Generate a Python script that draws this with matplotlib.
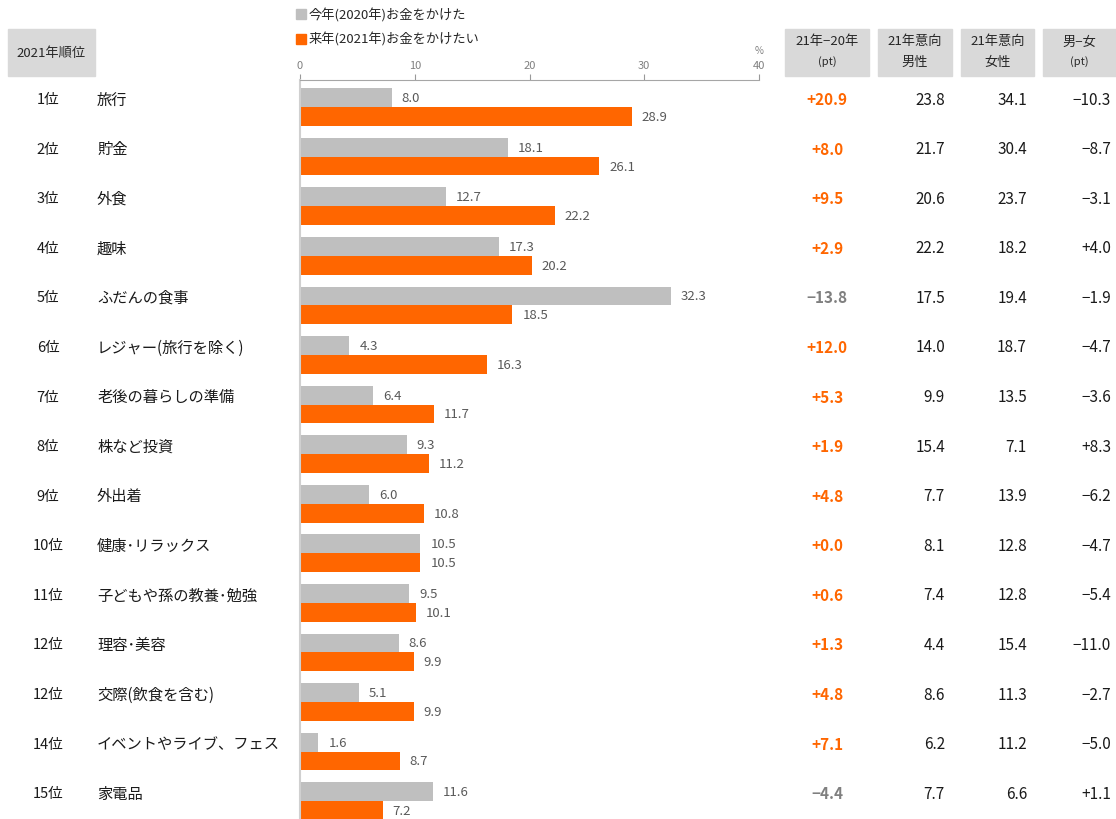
import matplotlib
matplotlib.use("Agg")
import matplotlib.pyplot as plt
import matplotlib.transforms as mtransforms
import numpy as np

plt.rcParams['font.family'] = ['Noto Sans CJK JP', 'DejaVu Sans']

# データ
ranks = ['1位', '2位', '3位', '4位', '5位', '6位', '7位', '8位', '9位', '10位',
         '11位', '12位', '12位', '14位', '15位']
cats = ['旅行', '貯金', '外食', '趣味', 'ふだんの食事', 'レジャー(旅行を除く)',
        '老後の暮らしの準備', '株など投資', '外出着', '健康･リラックス',
        '子どもや孫の教養･勉強', '理容･美容', '交際(飲食を含む)',
        'イベントやライブ、フェス', '家電品']
y2020 = [8.0, 18.1, 12.7, 17.3, 32.3, 4.3, 6.4, 9.3, 6.0, 10.5, 9.5, 8.6, 5.1, 1.6, 11.6]
y2021 = [28.9, 26.1, 22.2, 20.2, 18.5, 16.3, 11.7, 11.2, 10.8, 10.5, 10.1, 9.9, 9.9, 8.7, 7.2]
diff = [20.9, 8.0, 9.5, 2.9, -13.8, 12.0, 5.3, 1.9, 4.8, 0.0, 0.6, 1.3, 4.8, 7.1, -4.4]
male = [23.8, 21.7, 20.6, 22.2, 17.5, 14.0, 9.9, 15.4, 7.7, 8.1, 7.4, 4.4, 8.6, 6.2, 7.7]
female = [34.1, 30.4, 23.7, 18.2, 19.4, 18.7, 13.5, 7.1, 13.9, 12.8, 12.8, 15.4, 11.3, 11.2, 6.6]
mf = [-10.3, -8.7, -3.1, 4.0, -1.9, -4.7, -3.6, 8.3, -6.2, -4.7, -5.4, -11.0, -2.7, -5.0, 1.1]
xticks = [0, 10, 20, 30, 40]

ORANGE = '#ff6600'
GRAY = '#bfbfbf'
TXT = '#1a1a1a'
BOX = '#d9d9d9'

W, H = 1116, 820
fig = plt.figure(figsize=(W / 100, H / 100), dpi=100)


def fx(x):
    return x / W


def fy(y):
    return 1 - y / H


# 棒グラフ
ax = fig.add_axes([fx(300), 0, fx(759) - fx(300), fy(81)])
pos = np.arange(len(cats))
h = 0.38
ax.barh(pos - h / 2, y2020, height=h, color=GRAY)
ax.barh(pos + h / 2, y2021, height=h, color=ORANGE)
for i in pos:
    ax.annotate(f'{y2020[i]:.1f}', (y2020[i], i - h / 2), xytext=(10, 0),
                textcoords='offset pixels', va='center', ha='left',
                fontsize=9.5, color='#595959')
    ax.annotate(f'{y2021[i]:.1f}', (y2021[i], i + h / 2), xytext=(10, 0),
                textcoords='offset pixels', va='center', ha='left',
                fontsize=9.5, color='#595959')

ax.set_xlim(0, 40)
ax.set_ylim(14.36, -0.545)
ax.xaxis.tick_top()
ax.set_xticks(xticks)
ax.set_xticklabels([str(t) for t in xticks])
ax.tick_params(axis='x', length=4, width=0.8, color='#999999', labelsize=8,
               labelcolor='#808080', pad=3)
ax.set_yticks([])
for s in ['right', 'bottom']:
    ax.spines[s].set_visible(False)
ax.spines['top'].set_color('#a6a6a6')
ax.spines['left'].set_color('#d0d0d0')
ax.spines['left'].set_linewidth(1.5)
fig.text(fx(759), fy(51), '%', ha='center', va='center', fontsize=7, color='#808080')

# 行ラベル・数値列
tr = mtransforms.blended_transform_factory(fig.transFigure, ax.transData)
off = 0.16


def fmt(v):
    s = f'{v:+.1f}'
    return s.replace('-', '−')


for i in pos:
    yy = i - off
    ax.text(fx(48), yy, ranks[i], transform=tr, ha='center', va='center',
            fontsize=10.5, color=TXT, clip_on=False)
    ax.text(fx(97), yy, cats[i], transform=tr, ha='left', va='center',
            fontsize=11, color=TXT, clip_on=False)
    ax.text(fx(827), yy, fmt(diff[i]), transform=tr, ha='center', va='center',
            fontsize=11, fontweight='bold', color=ORANGE if diff[i] >= 0 else '#7f7f7f',
            clip_on=False)
    ax.text(fx(945), yy, f'{male[i]:.1f}', transform=tr, ha='right', va='center',
            fontsize=11, color=TXT, clip_on=False)
    ax.text(fx(1027), yy, f'{female[i]:.1f}', transform=tr, ha='right', va='center',
            fontsize=11, color=TXT, clip_on=False)
    ax.text(fx(1111), yy, fmt(mf[i]), transform=tr, ha='right', va='center',
            fontsize=11, color=TXT, clip_on=False)

# 見出しボックス
boxes = [(8, 95, ['2021年順位']),
         (785, 869, ['21年−20年', '(pt)']),
         (878, 952, ['21年意向', '男性']),
         (961, 1034, ['21年意向', '女性']),
         (1043, 1116, ['男−女', '(pt)'])]
for x0, x1, lines in boxes:
    fig.patches.append(plt.Rectangle((fx(x0), fy(77)), fx(x1) - fx(x0), fy(30) - fy(77),
                                     transform=fig.transFigure, color=BOX, zorder=0))
    cx = fx((x0 + x1) / 2)
    if len(lines) == 1:
        fig.text(cx, fy(53), lines[0], ha='center', va='center', fontsize=9.5,
                 color='#262626')
    else:
        fig.text(cx, fy(42), lines[0], ha='center', va='center', fontsize=9.5,
                 color='#262626')
        small = lines[1].startswith('(')
        fig.text(cx, fy(62), lines[1], ha='center', va='center',
                 fontsize=8 if small else 9.5, color='#262626')

# 凡例
legend = [(GRAY, '今年(2020年)お金をかけた', 15), (ORANGE, '来年(2021年)お金をかけたい', 40)]
for col, lab, y in legend:
    fig.patches.append(plt.Rectangle((fx(296), fy(y + 5)), fx(306) - fx(296), fy(y - 5) - fy(y + 5),
                                     transform=fig.transFigure, color=col))
    fig.text(fx(309), fy(y), lab, ha='left', va='center', fontsize=9.5,
             color='#262626')

fig.savefig('out.png', dpi=100)
